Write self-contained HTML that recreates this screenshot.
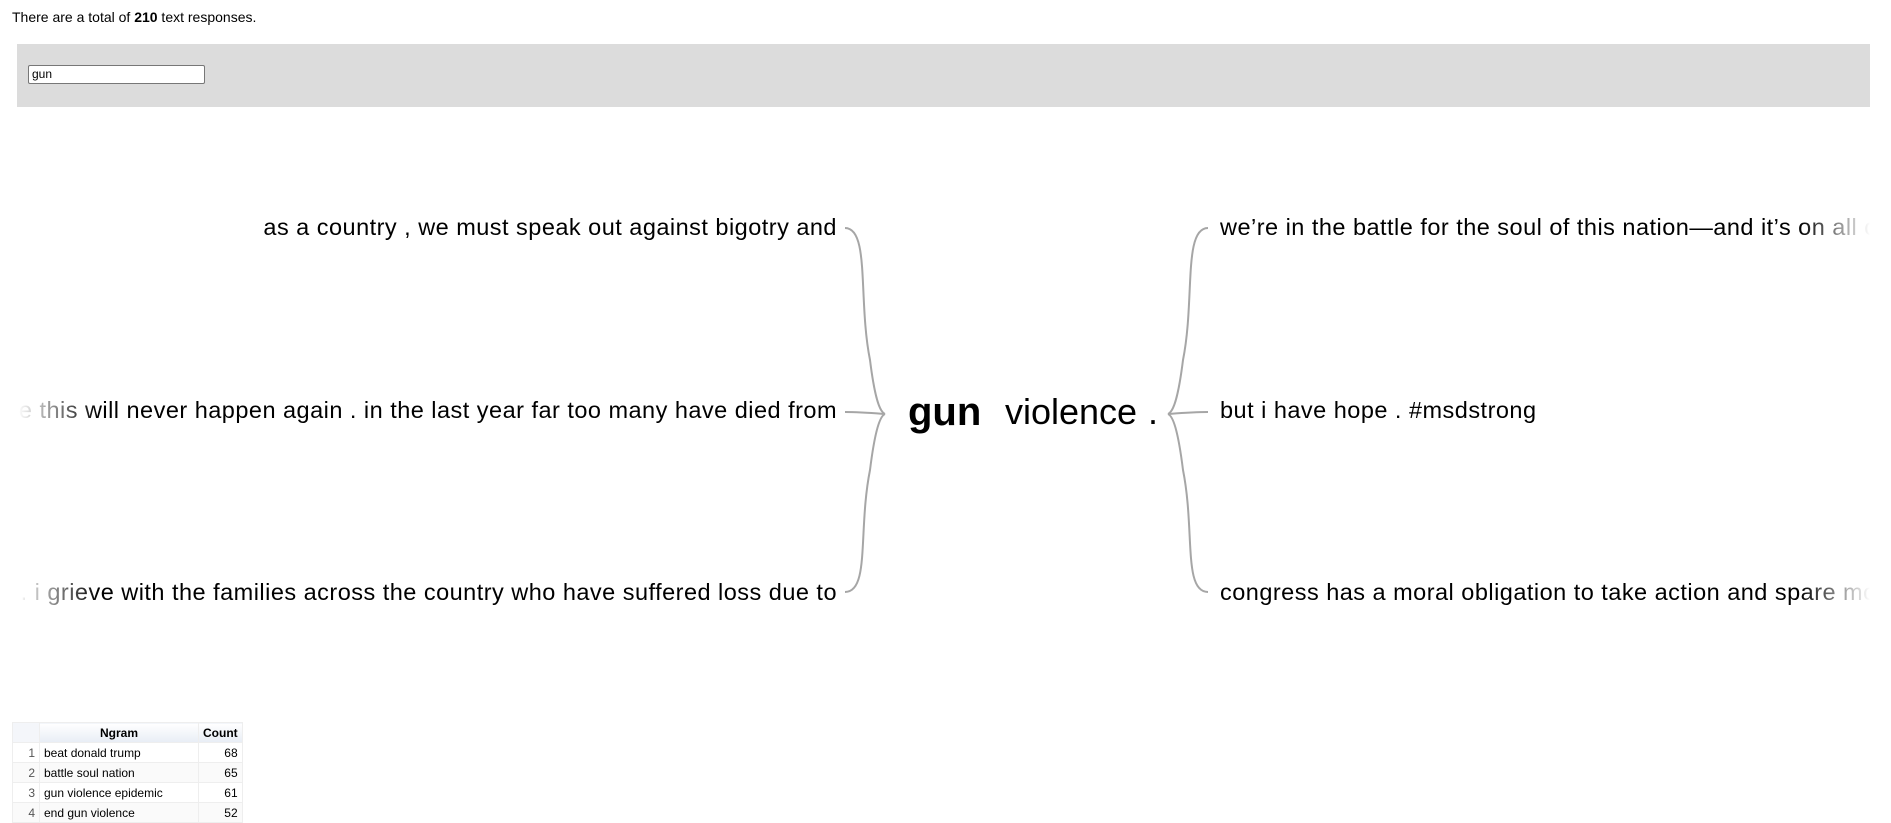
<!DOCTYPE html>
<html><head><meta charset="utf-8">
<style>
html,body{margin:0;padding:0;background:#fff;width:1891px;height:822px;overflow:hidden;font-family:"Liberation Sans",Arial,sans-serif;}
.hdr{position:absolute;left:12px;top:9px;font-size:14px;color:#000;}
.panel{position:absolute;left:17px;top:44px;width:1853px;height:63px;background:#dcdcdc;}
.inp{position:absolute;left:28px;top:65px;width:172px;height:17px;border:1px solid #777;background:#fff;font-size:12px;line-height:17px;padding-left:3px;border-radius:2px;}
svg{position:absolute;left:0;top:0;}
table{position:absolute;left:12px;top:722px;border-collapse:collapse;font-size:12px;}
td,th{border:1px solid #eee;padding:0 4px;height:19px;}
th{background:linear-gradient(#fff,#e8edf5);font-weight:bold;}
td.n{color:#555;text-align:right;width:18px;}
td.c{text-align:right;}
</style></head><body>
<div class="hdr">There are a total of <b>210</b> text responses.</div>
<div class="panel"></div>
<div class="inp">gun</div>
<svg width="1891" height="822">
<defs>
<linearGradient id="fl" x1="0" x2="1"><stop offset="0" stop-color="#fff" stop-opacity="1"/><stop offset="1" stop-color="#fff" stop-opacity="0"/></linearGradient>
<linearGradient id="fr" x1="0" x2="1"><stop offset="0" stop-color="#fff" stop-opacity="0"/><stop offset="1" stop-color="#fff" stop-opacity="1"/></linearGradient>
</defs>
<g font-family="Liberation Sans, Arial, sans-serif" font-size="23.5" letter-spacing="0.48" fill="#000">
<text x="837" y="235" text-anchor="end">as a country , we must speak out against bigotry and</text>
<text x="837" y="418" text-anchor="end">so that we can make sure this will never happen again . in the last year far too many have died from</text>
<text x="837" y="600" text-anchor="end">in the wake of the tragedy . i grieve with the families across the country who have suffered loss due to</text>
<text x="1220" y="235">we’re in the battle for the soul of this nation—and it’s on all of us to act</text>
<text x="1220" y="418">but i have hope . #msdstrong</text>
<text x="1220" y="600">congress has a moral obligation to take action and spare more families this pain</text>
</g>
<rect x="0" y="180" width="18" height="450" fill="#fff"/>
<rect x="18" y="180" width="80" height="450" fill="url(#fl)"/>
<rect x="1800" y="180" width="70" height="450" fill="url(#fr)"/>
<rect x="1870" y="180" width="30" height="450" fill="#fff"/>
<g fill="none" stroke="#a6a6a6" stroke-width="2">
<path d="M845,228 C870,228 858,300 870,360 C875,400 880,412 885,414"/>
<path d="M845,412 C860,412 872,413 885,414"/>
<path d="M845,592 C870,592 858,530 870,470 C875,430 880,416 885,414"/>
<path d="M1208,228 C1183,228 1195,300 1183,360 C1178,400 1173,412 1168,414"/>
<path d="M1208,412 C1193,412 1181,413 1168,414"/>
<path d="M1208,592 C1183,592 1195,530 1183,470 C1178,430 1173,416 1168,414"/>
</g>
<text x="908" y="425" font-family="Liberation Sans, Arial, sans-serif" font-size="40" font-weight="bold">gun</text>
<text x="1005" y="424" font-family="Liberation Sans, Arial, sans-serif" font-size="36">violence</text>
<text x="1148" y="424" font-family="Liberation Sans, Arial, sans-serif" font-size="36">.</text>
</svg>
<table>
<tr><th style="background:#f4f6fa"></th><th style="width:150px">Ngram</th><th>Count</th></tr>
<tr><td class="n">1</td><td>beat donald trump</td><td class="c">68</td></tr>
<tr style="background:#fafafa"><td class="n">2</td><td>battle soul nation</td><td class="c">65</td></tr>
<tr><td class="n">3</td><td>gun violence epidemic</td><td class="c">61</td></tr>
<tr style="background:#fafafa"><td class="n">4</td><td>end gun violence</td><td class="c">52</td></tr>
</table>
</body></html>
